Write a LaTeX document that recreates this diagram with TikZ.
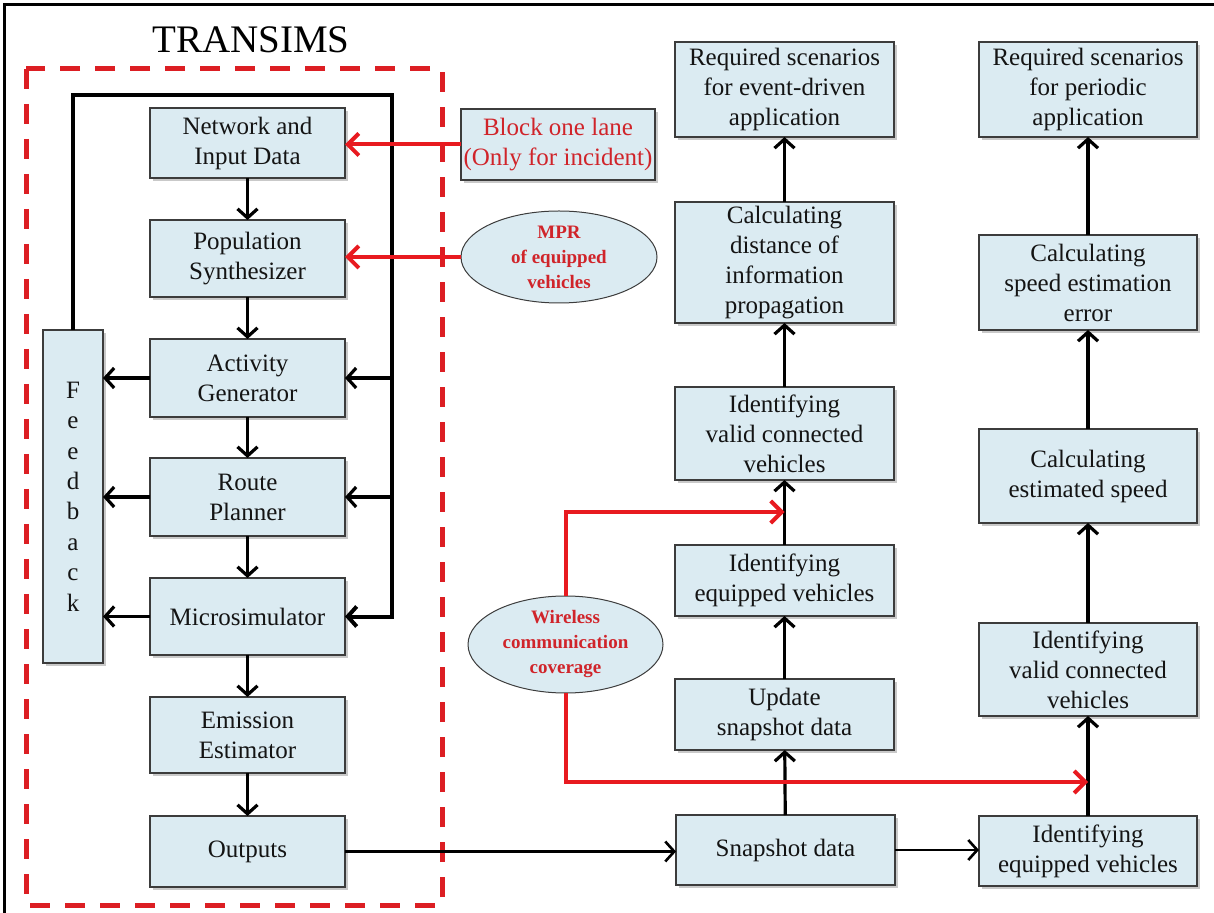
\documentclass[tikz,border=0pt]{standalone}
\usepackage{fontspec}
\setmainfont{Liberation Serif}
\usetikzlibrary{arrows.meta,shapes.geometric,shadows}
\definecolor{boxblue}{RGB}{219,235,242}
\definecolor{bordergray}{RGB}{60,60,60}
\definecolor{txtc}{RGB}{20,20,20}
\definecolor{lred}{RGB}{232,26,32}
\definecolor{tred}{RGB}{208,36,42}
\definecolor{dred}{RGB}{220,30,35}
\newcommand\bxf{\rmfamily\fontsize{12.5}{15}\selectfont}
\newcommand\elf{\rmfamily\fontsize{9.5}{12.5}\selectfont\bfseries}
\begin{document}
\begin{tikzpicture}[x=0.5pt,y=-0.5pt,
  box/.style={draw=bordergray, fill=boxblue, line width=0.7pt, inner sep=0pt, outer sep=0pt,
    align=center, text=txtc, font=\bxf,
    drop shadow={shadow xshift=1.4pt, shadow yshift=-1.4pt, opacity=0.3, fill=black!70}},
  ell/.style={ellipse, draw=bordergray, fill=boxblue, line width=0.5pt, inner sep=0pt, outer sep=0pt,
    align=center, text=tred, font=\elf},
  blk/.style={draw=black, line width=1.6pt, -{Straight Barb[length=4.5pt,width=10pt]}},
  fbline/.style={draw=black, line width=2pt, -{Straight Barb[length=4.5pt,width=10pt]}},
  redarr/.style={draw=lred, line width=2pt, -{Straight Barb[length=5.5pt,width=11pt]}}
]
\useasboundingbox (0,0) rectangle (1214,913);
% outer frame (top and left)
\draw[line width=1.5pt] (4.5,913) -- (4.5,4.5) -- (1214,4.5);
% TRANSIMS frame
\draw[dred, line width=2.5pt, dash pattern=on 10pt off 7.5pt] (26,69) rectangle (442,905);
\node[anchor=base, font=\rmfamily\fontsize{19.5}{23}\selectfont] (title) at (251,53) {TRANSIMS};

% left column
\node[box, minimum width=97.5pt, minimum height=35pt]   (net)   at (247.5,143)   {Network and\\Input Data};
\node[box, minimum width=97.5pt, minimum height=38.5pt] (pop)   at (247.5,258.5) {Population\\Synthesizer};
\node[box, minimum width=97.5pt, minimum height=39pt]   (act)   at (247.5,378)   {Activity\\Generator};
\node[box, minimum width=97.5pt, minimum height=39pt]   (route) at (247.5,497)   {Route\\Planner};
\node[box, minimum width=97.5pt, minimum height=38.5pt] (micro) at (247.5,616.5) {Microsimulator};
\node[box, minimum width=97.5pt, minimum height=38pt]   (emis)  at (247.5,735)   {Emission\\Estimator};
\node[box, minimum width=97.5pt, minimum height=35.5pt] (out)   at (247.5,851.5) {Outputs};
\node[box, minimum width=30pt, minimum height=166.5pt, font=\rmfamily\fontsize{12.5}{15.2}\selectfont] (fb) at (73,496.5)
  {F\\e\\e\\d\\b\\a\\c\\k};

% inputs
\node[box, text=tred, minimum width=97pt, minimum height=35.5pt] (block) at (558,144.5) {Block one lane\\(Only for incident)};
\node[ell, minimum width=98pt, minimum height=46pt] (mpr) at (559,257) {MPR\\of equipped\\vehicles};
\node[ell, minimum width=97.5pt, minimum height=48.5pt] (wl) at (565.5,644.5) {Wireless\\communication\\coverage};

% middle column
\node[box, minimum width=109.5pt, minimum height=47.5pt] (req1)  at (784.5,89.5)  {Required scenarios\\for event-driven\\application};
\node[box, minimum width=109.5pt, minimum height=60.5pt] (calcd) at (784.5,262.5) {Calculating\\distance of\\information\\propagation};
\node[box, minimum width=109.5pt, minimum height=46.5pt] (vc1)   at (784.5,433.5) {Identifying\\valid connected\\vehicles};
\node[box, minimum width=109.5pt, minimum height=35.5pt] (eq1)   at (784.5,580.5) {Identifying\\equipped vehicles};
\node[box, minimum width=109.5pt, minimum height=35.5pt] (upd)   at (784.5,714.5) {Update\\snapshot data};
\node[box, minimum width=109.5pt, minimum height=35pt]   (snap)  at (785.5,850)   {Snapshot data};

% right column
\node[box, minimum width=109pt, minimum height=47.5pt] (req2) at (1088,89.5)  {Required scenarios\\for periodic\\application};
\node[box, minimum width=109pt, minimum height=47.5pt] (cse)  at (1088,282.5) {Calculating\\speed estimation\\error};
\node[box, minimum width=109pt, minimum height=47pt]   (ces)  at (1088,476)   {Calculating\\estimated speed};
\node[box, minimum width=109pt, minimum height=46.5pt] (vc2)  at (1088,669.5) {Identifying\\valid connected\\vehicles};
\node[box, minimum width=109pt, minimum height=35pt]   (eq2)  at (1088,851)   {Identifying\\equipped vehicles};

% left column flow
\draw[blk] (net) -- (pop);
\draw[blk] (pop) -- (act);
\draw[blk] (act) -- (route);
\draw[blk] (route) -- (micro);
\draw[blk] (micro) -- (emis);
\draw[blk] (emis) -- (out);
% feedback loop
\coordinate (lr) at (392,95);
\draw[fbline] (fb.north) |- (lr) |- (micro.east);
\draw[blk] (lr |- act.east) -- (act.east);
\draw[blk] (lr |- route.east) -- (route.east);
\draw[blk] (act.west) -- (act.west -| fb.east);
\draw[blk] (route.west) -- (route.west -| fb.east);
\draw[blk] (micro.west) -- (micro.west -| fb.east);

% red inputs
\draw[redarr] (block.west) -- (block.west -| net.east);
\draw[redarr] (mpr.west) -- (mpr.west -| pop.east);

% outputs to snapshot
\draw[blk, line width=1.3pt] (out.east) -- (out.east -| snap.west);
\draw[blk, line width=1.3pt] (snap.east) -- (snap.east -| eq2.west);

% middle column flow
\draw[blk] (snap) -- (upd);
\draw[blk] (upd) -- (eq1);
\draw[blk] (eq1) -- (vc1);
\draw[blk] (vc1) -- (calcd);
\draw[blk] (calcd) -- (req1);
% right column flow
\draw[blk] (eq2) -- (vc2);
\draw[blk] (vc2) -- (ces);
\draw[blk] (ces) -- (cse);
\draw[blk] (cse) -- (req2);

% wireless coverage
\coordinate (r1) at (784.5,512);
\coordinate (r2) at (1088,782);
\draw[redarr] (wl.north) |- (r1);
\draw[redarr] (wl.south) |- (r2);
\end{tikzpicture}
\end{document}
